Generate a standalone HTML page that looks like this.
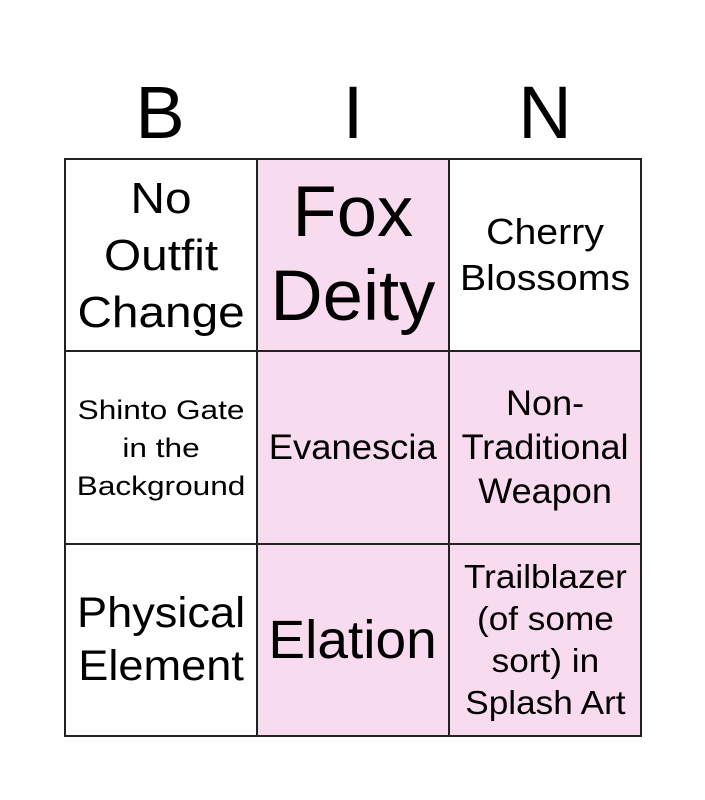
<!DOCTYPE html>
<html><head><style>
body{margin:0;width:705px;height:800px;background:#fff;position:relative;font-family:"Liberation Sans",sans-serif;overflow:hidden}
.h{position:absolute;top:68px;width:192px;text-align:center;font-size:74px;line-height:90px}
.c{position:absolute;width:192px;height:192px;display:flex;align-items:center;justify-content:center;text-align:center;color:#000;box-sizing:border-box}
.c span{display:inline-block;white-space:nowrap}
.p{background:#f9dbef}
.g{position:absolute;background:#222}
</style></head><body>
<div class="h" style="left:64px">B</div>
<div class="h" style="left:257px">I</div>
<div class="h" style="left:449px">N</div>

<div class="c" style="left:65px;top:159px;font-size:44px;line-height:57px"><span style="transform:scaleX(1.085)">No<br>Outfit<br>Change</span></div>
<div class="c p" style="left:257px;top:159px;font-size:71px;line-height:84px"><span style="transform:scaleX(1.02)">Fox<br>Deity</span></div>
<div class="c" style="left:449px;top:159px;font-size:36px;line-height:46px"><span style="transform:scaleX(1.09)">Cherry<br>Blossoms</span></div>

<div class="c" style="left:65px;top:352px;font-size:27px;line-height:38px"><span style="transform:scaleX(1.17)">Shinto Gate<br>in the<br>Background</span></div>
<div class="c p" style="left:257px;top:352px;font-size:35px;line-height:44px"><span style="transform:scaleX(1.04)">Evanescia</span></div>
<div class="c p" style="left:449px;top:352px;font-size:35px;line-height:44px"><span style="transform:scaleX(1.03)">Non-<br>Traditional<br>Weapon</span></div>

<div class="c" style="left:65px;top:544px;font-size:43px;line-height:53px"><span style="transform:scaleX(1.05)">Physical<br>Element</span></div>
<div class="c p" style="left:257px;top:544px;font-size:54px;line-height:64px"><span style="transform:scaleX(1.02)">Elation</span></div>
<div class="c p" style="left:449px;top:544px;font-size:33px;line-height:42px"><span style="transform:scaleX(1.066)">Trailblazer<br>(of some<br>sort) in<br>Splash Art</span></div>

<div class="g" style="left:64px;top:158px;width:578px;height:2px"></div>
<div class="g" style="left:64px;top:350px;width:578px;height:2px"></div>
<div class="g" style="left:64px;top:543px;width:578px;height:2px"></div>
<div class="g" style="left:64px;top:735px;width:578px;height:2px"></div>
<div class="g" style="left:64px;top:158px;width:2px;height:579px"></div>
<div class="g" style="left:256px;top:158px;width:2px;height:579px"></div>
<div class="g" style="left:448px;top:158px;width:2px;height:579px"></div>
<div class="g" style="left:640px;top:158px;width:2px;height:579px"></div>
</body></html>
